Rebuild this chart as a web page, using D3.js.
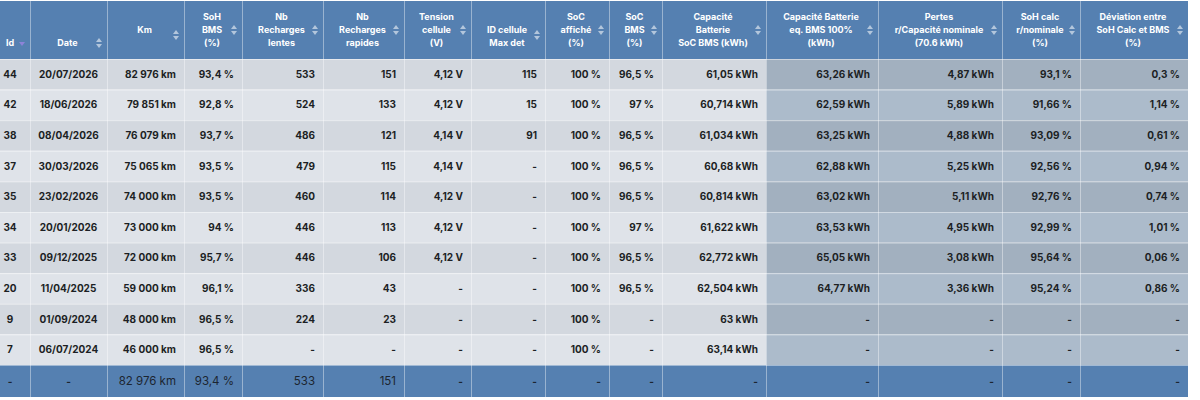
<!DOCTYPE html>
<html>
<head>
<meta charset="utf-8">
<script src="https://cdn.jsdelivr.net/npm/d3@7"></script>
<style>
  body { margin: 0; background: #fff; }
</style>
</head>
<body>
<div id="table-container"></div>
<script>
const ids = [44, 42, 38, 37, 35, 34, 33, 20, 9, 7];
const dates = ['20/07/2026', '18/06/2026', '08/04/2026', '30/03/2026', '23/02/2026',
               '20/01/2026', '09/12/2025', '11/04/2025', '01/09/2024', '06/07/2024'];
const km = [82976, 79851, 76079, 75065, 74000, 73000, 72000, 59000, 48000, 46000];
const sohBms = [93.4, 92.8, 93.7, 93.5, 93.5, 94, 95.7, 96.1, 96.5, 96.5];
const rechLentes = [533, 524, 486, 479, 460, 446, 446, 336, 224, null];
const rechRapides = [151, 133, 121, 115, 114, 113, 106, 43, 23, null];
const tension = [4.12, 4.12, 4.14, 4.14, 4.12, 4.12, 4.12, null, null, null];
const idCellule = [115, 15, 91, null, null, null, null, null, null, null];
const socAffiche = [100, 100, 100, 100, 100, 100, 100, 100, 100, 100];
const socBms = [96.5, 97, 96.5, 96.5, 96.5, 97, 96.5, 96.5, null, null];
const capaSocBms = [61.05, 60.714, 61.034, 60.68, 60.814, 61.622, 62.772, 62.504, 63, 63.14];
const capa100 = [63.26, 62.59, 63.25, 62.88, 63.02, 63.53, 65.05, 64.77, null, null];
const pertes = [4.87, 5.89, 4.88, 5.25, 5.11, 4.95, 3.08, 3.36, null, null];
const sohCalc = [93.1, 91.66, 93.09, 92.56, 92.76, 92.99, 95.64, 95.24, null, null];
const deviation = [0.3, 1.14, 0.61, 0.94, 0.74, 1.01, 0.06, 0.86, null, null];
// Summary row at the bottom
const totals = [null, null, 82976, 93.4, 533, 151, null, null, null, null, null, null, null, null, null];

// French number formatting
const fr = d3.formatLocale({ decimal: ',', thousands: ' ', grouping: [3], currency: ['', ' €'] });
const fmtInt = fr.format(',d');
const dec = v => String(v).replace('.', ',');
const pct = v => dec(v) + ' %';
const kwh = v => dec(v) + ' kWh';

const columns = [
    { title: ['Id'], values: ids, fmt: String, align: 'id', width: 30 },
    { title: ['Date'], values: dates, fmt: String, align: 'center', width: 77 },
    { title: ['Km', ''], values: km, fmt: v => fmtInt(v) + ' km', width: 77 },
    { title: ['SoH', 'BMS', '(%)'], values: sohBms, fmt: pct, width: 58 },
    { title: ['Nb', 'Recharges', 'lentes'], values: rechLentes, fmt: String, width: 81 },
    { title: ['Nb', 'Recharges', 'rapides'], values: rechRapides, fmt: String, width: 81 },
    { title: ['Tension', 'cellule', '(V)'], values: tension, fmt: v => dec(v) + ' V', width: 67 },
    { title: ['ID cellule', 'Max det'], values: idCellule, fmt: String, width: 74 },
    { title: ['SoC', 'affiché', '(%)'], values: socAffiche, fmt: pct, width: 64 },
    { title: ['SoC', 'BMS', '(%)'], values: socBms, fmt: pct, width: 53 },
    { title: ['Capacité', 'Batterie', 'SoC BMS (kWh)'], values: capaSocBms, fmt: kwh, width: 104 },
    { title: ['Capacité Batterie', 'eq. BMS 100%', '(kWh)'], values: capa100, fmt: kwh, width: 112, dark: true },
    { title: ['Pertes', 'r/Capacité nominale', '(70.6 kWh)'], values: pertes, fmt: kwh, width: 124, dark: true },
    { title: ['SoH calc', 'r/nominale', '(%)'], values: sohCalc, fmt: pct, width: 78, dark: true },
    { title: ['Déviation entre', 'SoH Calc et BMS', '(%)'], values: deviation, fmt: pct, width: 108, dark: true }
];

const width = 1200;
const height = 400;
const headerTop = 1;
const headerBottom = 59;
const bodyBottom = 365;
const footerBottom = 397;
const font = 'Inter, "Liberation Sans", sans-serif';

// Column left edges
const xEdges = [0].concat(Array.from(d3.cumsum(columns, c => c.width)));
columns.forEach((c, i) => { c.x0 = xEdges[i]; c.x1 = xEdges[i + 1]; });
const tableRight = xEdges[xEdges.length - 1];

// Rows
const y = d3.scaleBand()
    .domain(d3.range(ids.length))
    .range([headerBottom, bodyBottom])
    .paddingInner(0);

const svg = d3.select('#table-container').append('svg')
    .attr('width', width)
    .attr('height', height);

// Header background
svg.append('rect')
    .attr('x', 0).attr('y', headerTop)
    .attr('width', tableRight).attr('height', headerBottom - headerTop)
    .attr('fill', '#5580b1');

// Footer background
svg.append('rect')
    .attr('x', 0).attr('y', bodyBottom)
    .attr('width', tableRight).attr('height', footerBottom - bodyBottom)
    .attr('fill', '#5580b1');

// Body cells
const rows = svg.selectAll('.row')
    .data(d3.range(ids.length))
    .enter()
    .append('g')
    .attr('class', 'row')
    .attr('transform', r => `translate(0, ${y(r)})`);

rows.selectAll('rect')
    .data(r => columns.map(c => ({ r, c })))
    .enter()
    .append('rect')
    .attr('x', d => d.c.x0)
    .attr('width', d => d.c.width)
    .attr('height', y.bandwidth())
    .attr('fill', d => {
        const odd = d.r % 2 === 0;
        if (d.c.dark) return odd ? '#a2b0bf' : '#acbbcb';
        return odd ? '#d3d8df' : '#dfe3e9';
    });

function textX(c) {
    if (c.align === 'id') return 10;
    if (c.align === 'center') return (c.x0 + c.x1) / 2;
    return c.x1 - 8;
}
function anchor(c) {
    return (c.align === 'id' || c.align === 'center') ? 'middle' : 'end';
}

rows.selectAll('text')
    .data(r => columns.map(c => ({ r, c })))
    .enter()
    .append('text')
    .attr('x', d => textX(d.c))
    .attr('y', y.bandwidth() / 2)
    .attr('dy', '0.35em')
    .attr('text-anchor', d => anchor(d.c))
    .style('font-family', font)
    .style('font-size', '10px')
    .style('font-weight', 700)
    .style('fill', '#1c1f24')
    .text(d => {
        const v = d.c.values[d.r];
        return v == null ? '-' : d.c.fmt(v);
    });

// Grid lines
svg.selectAll('.vline')
    .data(xEdges.slice(1, -1))
    .enter()
    .append('line')
    .attr('x1', d => d + 0.5).attr('x2', d => d + 0.5)
    .attr('y1', headerTop).attr('y2', footerBottom)
    .attr('stroke', '#ffffff')
    .attr('stroke-opacity', 0.4);

svg.selectAll('.hline')
    .data(d3.range(ids.length).map(r => y(r)).concat([bodyBottom]))
    .enter()
    .append('line')
    .attr('x1', 0).attr('x2', tableRight)
    .attr('y1', d => d + 0.5).attr('y2', d => d + 0.5)
    .attr('stroke', '#ffffff')
    .attr('stroke-opacity', 0.45);

// Header labels
const lineStep = 13;
const lastLineY = 43;
const headers = svg.selectAll('.header')
    .data(columns)
    .enter()
    .append('g')
    .attr('class', 'header');

headers.append('text')
    .attr('text-anchor', 'middle')
    .style('font-family', font)
    .style('font-size', '9px')
    .style('font-weight', 700)
    .style('fill', '#ffffff')
    .selectAll('tspan')
    .data(c => c.title.map((t, i) => ({ c, t, i, n: c.title.length })))
    .enter()
    .append('tspan')
    .attr('x', d => d.c.align === 'id' ? 10 : (d.c.x0 + d.c.x1) / 2 - 1)
    .attr('y', d => lastLineY - (d.n - 1 - d.i) * lineStep)
    .attr('dy', '0.35em')
    .text(d => d.t);

// Sort icons
headers.filter(c => c.align !== 'id').each(function (c) {
    const n = c.title.length;
    const cy = lastLineY - (n - 1) * lineStep / 2 - (n === 2 ? 1.5 : 0);
    const cx = c.x1 - 8;
    const g = d3.select(this).append('g').attr('transform', `translate(${cx}, ${cy})`);
    g.append('path').attr('d', 'M-3,-1 L3,-1 L0,-5 Z').attr('fill', '#b3c6dc');
    g.append('path').attr('d', 'M-3,1 L3,1 L0,5 Z').attr('fill', '#b3c6dc');
});

// Active sort marker on Id
svg.append('path')
    .attr('transform', `translate(22, ${lastLineY + 1})`)
    .attr('d', 'M-3,-2 L3,-2 L0,2 Z')
    .attr('fill', '#8d83d8');

// Footer
svg.append('g')
    .selectAll('text')
    .data(columns.map((c, i) => ({ c, v: totals[i] })))
    .enter()
    .append('text')
    .attr('x', d => textX(d.c))
    .attr('y', (bodyBottom + footerBottom) / 2)
    .attr('dy', '0.35em')
    .attr('text-anchor', d => anchor(d.c))
    .style('font-family', font)
    .style('font-size', d => d.v == null ? '10px' : '11.5px')
    .style('font-weight', d => d.v == null ? 700 : 400)
    .style('fill', '#1c2530')
    .text(d => d.v == null ? '-' : d.c.fmt(d.v));
</script>
</body>
</html>
